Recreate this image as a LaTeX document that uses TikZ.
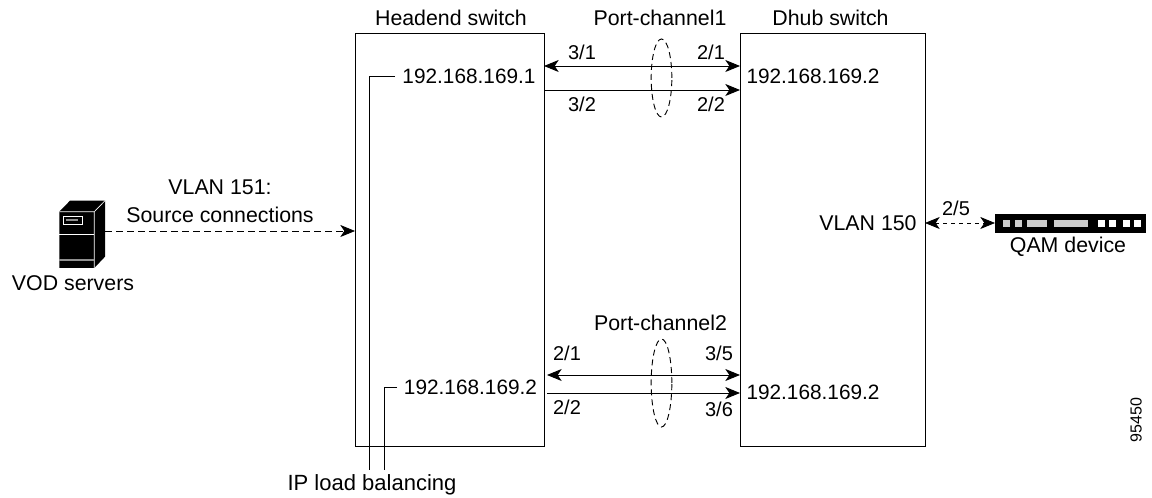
\documentclass[tikz,border=0pt]{standalone}
\usepackage{fontspec}
\setmainfont{Liberation Sans}
\usepackage{xcolor}
\definecolor{ledgray}{RGB}{205, 205, 205}
\usetikzlibrary{shapes.geometric,arrows.meta,positioning,calc}

\begin{document}
\begin{tikzpicture}[
  x=0.75pt, y=-0.75pt,
  lbl/.style={font=\fontsize{16pt}{18pt}\selectfont, inner sep=0pt, anchor=center},
  iplbl/.style={font=\fontsize{15.6pt}{18pt}\selectfont, inner sep=0pt, anchor=center},
  portlbl/.style={font=\fontsize{15pt}{18pt}\selectfont, inner sep=0pt, anchor=center},
  switchbox/.style={draw=black, line width=0.75pt, inner sep=0pt, anchor=north west},
  arrow/.style={-{Stealth[length=11pt, width=9pt, inset=3pt]}, line width=0.7pt},
  biarrow/.style={{Stealth[length=11pt, width=9pt, inset=3pt]}-{Stealth[length=11pt, width=9pt, inset=3pt]}, line width=0.7pt},
  bundle/.style={draw=black, dash pattern=on 4.5pt off 3pt, line width=0.7pt, ellipse, inner sep=0pt, minimum width=15.5pt},
  lead/.style={line width=0.7pt}
]
\useasboundingbox (0,0) rectangle (1152,498);

% switches
\node[switchbox, minimum width=141.4pt, minimum height=310pt] (headend) at (355,33) {};
\node[switchbox, minimum width=139pt, minimum height=310pt] (dhub) at (740,33) {};
\node[lbl] (headendlbl) at (451,18) {Headend switch};
\node[lbl] (dhublbl) at (830.5,18) {Dhub switch};

% addresses
\node[iplbl] (ip1) at (469,76) {192.168.169.1};
\node[iplbl] (ip2) at (470.5,387) {192.168.169.2};
\node[iplbl] (ip3) at (813,76) {192.168.169.2};
\node[iplbl] (ip4) at (813,392) {192.168.169.2};
\node[lbl] (vlan150) at (868,223) {VLAN 150};

% port channel 1
\coordinate (p31) at (544,66);
\coordinate (p21) at (740,66);
\coordinate (p32) at (544,90);
\coordinate (p22) at (740,90);
\draw[biarrow] (p31) -- (p21);
\draw[arrow] (p32) -- (p22);
\node[bundle, minimum height=58.5pt] (pc1) at (661.5,78) {};
\node[lbl] (pc1lbl) at (660,18) {Port-channel1};
\node[portlbl] (l31) at (582,52) {3/1};
\node[portlbl] (l32) at (582,104) {3/2};
\node[portlbl] (l21) at (711,52) {2/1};
\node[portlbl] (l22) at (711,104) {2/2};

% port channel 2
\coordinate (q21) at (547,375);
\coordinate (q35) at (740,375);
\coordinate (q22) at (547,393);
\coordinate (q36) at (740,393);
\draw[biarrow] (q21) -- (q35);
\draw[arrow] (q22) -- (q36);
\node[bundle, minimum height=66pt] (pc2) at (661.5,383) {};
\node[lbl] (pc2lbl) at (660.5,323) {Port-channel2};
\node[portlbl] (m21) at (567,353) {2/1};
\node[portlbl] (m22) at (567,407) {2/2};
\node[portlbl] (m35) at (719,353) {3/5};
\node[portlbl] (m36) at (719,409) {3/6};

% load balancing leads
\node[lbl, font=\fontsize{16.5pt}{18pt}\selectfont] (iplb) at (372,485) {IP load balancing};
\coordinate (ld1) at (369,470);
\coordinate (ld2) at (384,470);
\coordinate (ip1end) at (395,76.5);
\coordinate (ip2end) at (397,387);
\draw[lead] (ip1end) -| (ld1);
\draw[lead] (ip2end) -| (ld2);

% vod server
\fill[black] (59.3,211.7) -- (70,200.7) -- (105,200.7) -- (105,256.7) -- (94.3,268) -- (59.3,268) -- cycle;
\draw[white, line width=0.5pt] (59.3,211.7) -- (94.3,211.7) -- (105,200.7) (94.3,211.7) -- (94.3,268);
\draw[white, line width=0.5pt] (59.3,234) -- (94.3,234);
\fill[ledgray!70!black] (59.3,259) rectangle (94.3,261);
\draw[white, line width=0.5pt] (63,216) rectangle (82,224);
\fill[ledgray!70!black] (66,219) rectangle (78,221);
\coordinate (srv) at (105,231);
\coordinate (srvin) at (355,231);
\draw[arrow, dash pattern=on 5pt off 3.25pt, line width=0.6pt] (srv) -- (srvin);
\node[lbl] (vlan151a) at (220,187) {VLAN 151:};
\node[lbl] (vlan151b) at (220,215) {Source connections};
\node[lbl] (vod) at (73,283) {VOD servers};

% qam device
\fill[black] (995,214) rectangle (1146,233);
\foreach \xa/\xb in {1003/1010,1015/1022,1027/1047,1054/1088}
  \fill[ledgray] (\xa,220) rectangle (\xb,227);
\foreach \xa in {1098,1109,1123,1134}
  \fill[white] (\xa,220) rectangle ++(7,7);
\coordinate (qam) at (995,223);
\coordinate (dhubport) at (925,223);
\draw[biarrow, dash pattern=on 2.5pt off 3.5pt, line width=0.6pt] (dhubport) -- (qam);
\node[portlbl] (l25) at (956,208) {2/5};
\node[lbl] (qamlbl) at (1068,247) {QAM device};

\node[lbl, rotate=90, font=\fontsize{12pt}{15pt}\selectfont] (figid) at (1136,420) {95450};
\end{tikzpicture}
\end{document}
